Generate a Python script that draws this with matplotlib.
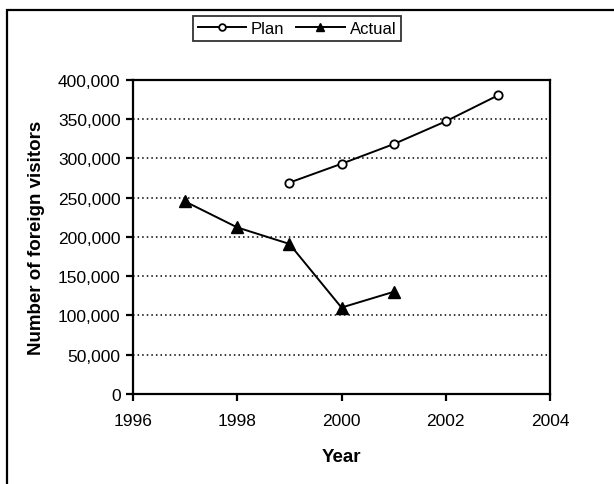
import matplotlib
matplotlib.use("Agg")
import matplotlib.pyplot as plt
from matplotlib.patches import Rectangle
from matplotlib.ticker import FuncFormatter, MultipleLocator

plt.rcParams['font.family'] = ['Liberation Sans', 'DejaVu Sans']

plan_years = [1999, 2000, 2001, 2002, 2003]
plan_visitors = [269000, 293000, 318000, 347000, 380000]
actual_years = [1997, 1998, 1999, 2000, 2001]
actual_visitors = [245000, 212000, 191000, 110000, 130000]

W, H = 614, 485
fig = plt.figure(figsize=(W / 100, H / 100), dpi=100)

# outer chart border (runs off the right and bottom edges)
fig.add_artist(Rectangle((7 / W, -0.05), 1.2, 1 - 11 / H + 0.05,
                         transform=fig.transFigure, fill=False,
                         edgecolor='black', linewidth=1.6))

ax = fig.add_axes([133 / W, 1 - 395 / H, (550 - 133) / W, (395 - 80.7) / H])

ax.plot(plan_years, plan_visitors, color='black', linewidth=1.4,
        marker='o', markersize=6, markerfacecolor='white',
        markeredgecolor='black', markeredgewidth=1.3, label='Plan')
ax.plot(actual_years, actual_visitors, color='black', linewidth=1.4,
        marker='^', markersize=8, markerfacecolor='black',
        markeredgecolor='black', label='Actual')

ax.set_xlim(1996, 2004)
ax.set_ylim(0, 400000)
ax.xaxis.set_major_locator(MultipleLocator(2))
ax.yaxis.set_major_locator(MultipleLocator(50000))
ax.yaxis.set_major_formatter(FuncFormatter(lambda v, p: f"{int(v):,}"))

ax.yaxis.grid(True, linestyle=(0, (1, 2)), color='black', linewidth=1.1)
ax.set_axisbelow(True)

for s in ax.spines.values():
    s.set_linewidth(1.6)
ax.tick_params(axis='both', direction='out', length=5, width=1.6,
               labelsize=12.5, pad=4, colors='black')
ax.tick_params(axis='x', pad=9)

ax.set_xlabel('Year', fontsize=13.5, fontweight='bold', labelpad=14)
ax.set_ylabel('Number of foreign visitors', fontsize=13.5, fontweight='bold',
              labelpad=9)

leg = fig.legend(loc='center', bbox_to_anchor=(297 / W, 1 - 29 / H),
                 ncol=2, frameon=True, fancybox=False, fontsize=12,
                 handlelength=2.9, handletextpad=0.3, columnspacing=0.7,
                 borderpad=0.3, markerscale=0.8, edgecolor='black')
leg.get_frame().set_linewidth(1.3)

fig.savefig('out.png', dpi=100, facecolor='white')
